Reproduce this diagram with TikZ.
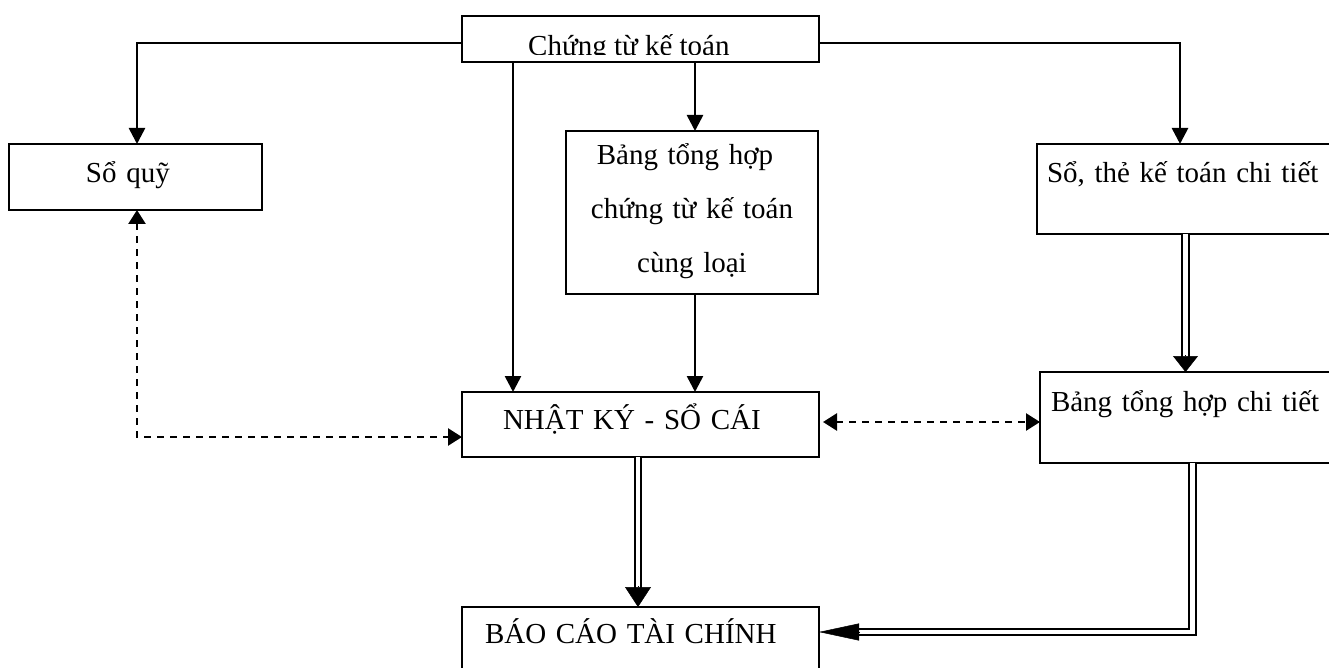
\documentclass[tikz,border=0pt]{standalone}
\usepackage{fontspec}
\setmainfont{Liberation Serif}
\usetikzlibrary{arrows.meta}

\begin{document}
\begin{tikzpicture}[x=1pt, y=-1pt,
  box/.style={draw, line width=2.2pt, inner sep=0pt, outer sep=0pt,
    font=\fontsize{29}{35}\selectfont},
  oneline/.style={text width=#1, minimum width=#1, align=left, text height=22pt},
  conn/.style={line width=2.6pt, -{Triangle[length=16pt,width=16pt]}},
  dashconn/.style={line width=2.6pt, dash pattern=on 7pt off 6pt,
    {Triangle[length=14pt,width=17pt]}-{Triangle[length=14pt,width=17pt]}},
  dbl/.style={line width=2pt, double=white, double distance=4.5pt, shorten >=#1},
  headonly/.style 2 args={line width=0.5pt, -{Triangle[length=#1,width=#2]}},
]
\useasboundingbox (0,0) rectangle (1329,668);
\clip (0,0) rectangle (1329,668);

% source documents: frame, and its title cut off by the lower edge
\node[box, minimum width=357pt, minimum height=46pt] (ctkt) at (640.5,39) {};
\begin{scope}
  \clip (ctkt.north west) rectangle ([yshift=7pt]ctkt.south east);
  \node[anchor=base west, inner sep=0pt, font=\fontsize{29}{35}\selectfont]
    (ctkt-title) at ([xshift=66pt,yshift=-40pt]ctkt.north west) {Chứng từ kế toán};
\end{scope}

\node[box, oneline=253pt, minimum height=66pt, text depth=10pt]
  (sq) at (135.5,177) {\hspace*{77pt}Sổ quỹ};

\node[box, text width=252pt, minimum width=252pt, minimum height=163pt,
  align=center, font=\fontsize{29}{54}\selectfont, text height=24pt, text depth=119pt]
  (bth) at (692,212.5) {Bảng tổng hợp\rule{14pt}{0pt}\\chứng từ kế toán\\cùng loại};

\node[box, oneline=308pt, minimum height=90pt, text depth=34pt]
  (skt) at (1191,189) {\hspace*{10pt}Sổ, thẻ kế toán chi tiết};

\node[box, oneline=357pt, minimum height=65pt, text depth=13pt]
  (nk) at (640.5,424.5) {\hspace*{41pt}NHẬT KÝ - SỔ CÁI};

\node[box, oneline=305pt, minimum height=91pt, text depth=33.6pt]
  (bthct) at (1192.5,417.5) {\hspace*{11pt}Bảng tổng hợp chi tiết};

\node[box, oneline=357pt, minimum height=83pt, text depth=33pt]
  (bc) at (640.5,648.5) {\hspace*{23pt}BÁO CÁO TÀI CHÍNH};

% solid flows from the source documents
\draw[conn] ([yshift=-4pt]ctkt.west) -| ([xshift=1.5pt]sq.north);
\draw[conn] ([yshift=-4pt]ctkt.east) -| ([xshift=-11pt]skt.north);
\draw[conn] ([xshift=-127.5pt]ctkt.south) -- ([xshift=-127.5pt]nk.north);
\draw[conn] ([xshift=54.5pt]ctkt.south) -- ([xshift=3pt]bth.north);
\draw[conn] ([xshift=3pt]bth.south) -- ([xshift=54.5pt]nk.north);

% cross-checks
\draw[dashconn] ([xshift=1.5pt]sq.south) |- ([yshift=-12.5pt]nk.west);
\draw[dashconn, shorten <=4pt] ([yshift=2.5pt]nk.east) -- ([yshift=-4.5pt]bthct.west);

% double-line flows, each closed by a solid head
\draw[dbl=9pt] ([xshift=-5.5pt]skt.south) -- ([xshift=-7pt]bthct.north);
\draw[headonly={16pt}{25pt}] ([xshift=-7pt,yshift=17pt]bthct.north) -- ([xshift=-7pt]bthct.north);

\draw[dbl=12pt] ([xshift=-2.5pt]nk.south) -- ([xshift=-2.5pt]bc.north);
\draw[headonly={20pt}{26pt}] ([xshift=-2.5pt,yshift=21pt]bc.north) -- ([xshift=-2.5pt]bc.north);

\draw[dbl=28pt] (bthct.south) |- ([yshift=16.5pt]bc.east);
\draw[headonly={40pt}{17pt}] ([xshift=41pt,yshift=16.5pt]bc.east) -- ([yshift=16.5pt]bc.east);
\end{tikzpicture}
\end{document}
